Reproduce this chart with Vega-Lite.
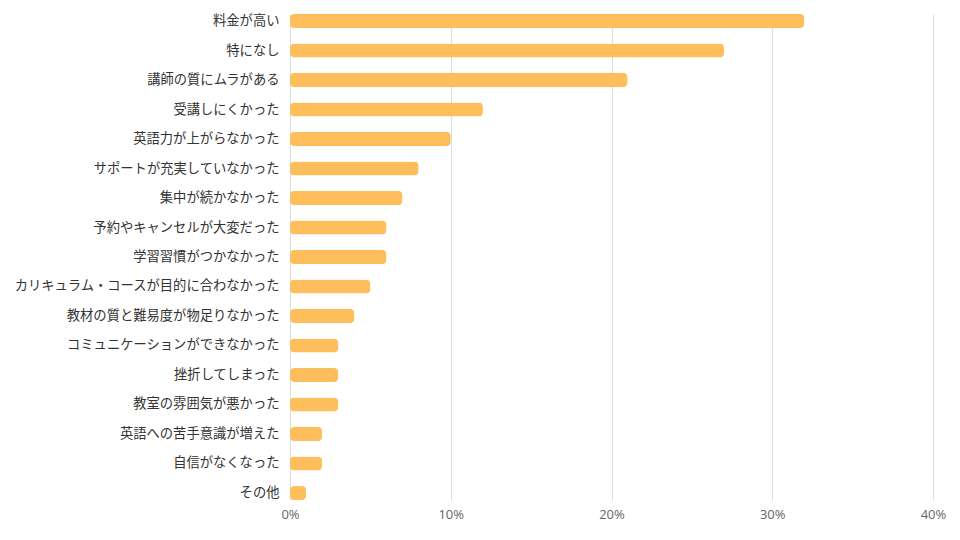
{
  "$schema": "https://vega.github.io/schema/vega-lite/v6.json",
  "width": 643,
  "height": 486,
  "autosize": {"type": "none"},
  "padding": {"left": 290, "top": 14, "right": 27, "bottom": 40},
  "background": "white",
  "config": {"view": {"stroke": null}},
  "data": {"values": [
    {"reason": "料金が高い", "share": 0.32},
    {"reason": "特になし", "share": 0.27},
    {"reason": "講師の質にムラがある", "share": 0.21},
    {"reason": "受講しにくかった", "share": 0.12},
    {"reason": "英語力が上がらなかった", "share": 0.10},
    {"reason": "サポートが充実していなかった", "share": 0.08},
    {"reason": "集中が続かなかった", "share": 0.07},
    {"reason": "予約やキャンセルが大変だった", "share": 0.06},
    {"reason": "学習習慣がつかなかった", "share": 0.06},
    {"reason": "カリキュラム・コースが目的に合わなかった", "share": 0.05},
    {"reason": "教材の質と難易度が物足りなかった", "share": 0.04},
    {"reason": "コミュニケーションができなかった", "share": 0.03},
    {"reason": "挫折してしまった", "share": 0.03},
    {"reason": "教室の雰囲気が悪かった", "share": 0.03},
    {"reason": "英語への苦手意識が増えた", "share": 0.02},
    {"reason": "自信がなくなった", "share": 0.02},
    {"reason": "その他", "share": 0.01}
  ]},
  "mark": {"type": "bar", "color": "#FFBE5C", "cornerRadius": 4},
  "encoding": {
    "y": {
      "field": "reason", "type": "nominal", "sort": null,
      "scale": {"paddingInner": 0.525, "paddingOuter": 0},
      "axis": {
        "title": null, "domain": false, "ticks": false, "labelPadding": 11,
        "labelFont": "Noto Sans CJK JP", "labelFontSize": 13.3, "labelColor": "#333333",
        "labelLimit": 300
      }
    },
    "x": {
      "field": "share", "type": "quantitative",
      "scale": {"domain": [0, 0.4], "nice": false},
      "axis": {
        "title": null, "format": ".0%", "values": [0, 0.1, 0.2, 0.3, 0.4],
        "domain": false, "ticks": false, "labelPadding": 8, "labelFlush": false,
        "labelFont": "Open Sans", "labelFontSize": 13, "labelColor": "#666666",
        "gridColor": "#DDDDDD", "gridWidth": 1
      }
    }
  }
}
